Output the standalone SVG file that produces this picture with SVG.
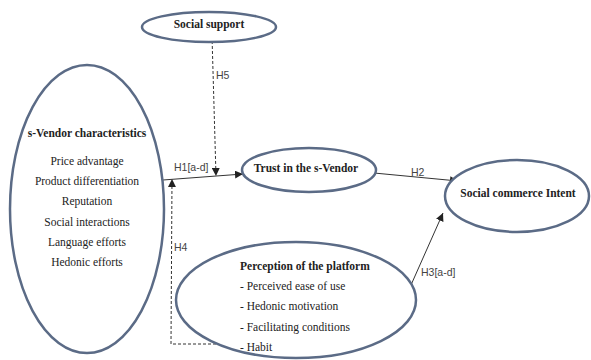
<svg xmlns="http://www.w3.org/2000/svg" width="591" height="360" viewBox="0 0 591 360">
<defs>
<marker id="ah" viewBox="0 0 10 10" refX="10" refY="5" markerWidth="8" markerHeight="8" markerUnits="userSpaceOnUse" orient="auto">
<path d="M0,0 L10,5 L0,10 z" fill="#222"/>
</marker>
<style>
.node ellipse{fill:#fff;stroke:#5b6b86;stroke-width:2.5}
.t{font-family:"Liberation Serif","Times New Roman",serif;font-size:11.5px;fill:#222;text-anchor:middle}
.b{font-weight:bold}
.l{text-anchor:start}
.lab{font-family:"Liberation Sans",Arial,sans-serif;font-size:10.5px;fill:#444}
.c{fill:none;stroke:#333;stroke-width:1}
.d{stroke-dasharray:3,2}
</style>
</defs>
<rect width="591" height="360" fill="#fff"/>
<g id="connectors">
<line class="c" x1="163" y1="180" x2="243" y2="174" marker-end="url(#ah)"/>
<line class="c d" x1="212" y1="36" x2="216" y2="176" marker-end="url(#ah)"/>
<polyline class="c d" points="246,344 171,344 172,179" marker-end="url(#ah)"/>
<line class="c" x1="374" y1="173" x2="458" y2="181" marker-end="url(#ah)"/>
<line class="c" x1="411" y1="285" x2="443" y2="213" marker-end="url(#ah)"/>
<text class="lab" x="174" y="171">H1[a-d]</text>
<text class="lab" x="216" y="79">H5</text>
<text class="lab" x="174" y="251">H4</text>
<text class="lab" x="411" y="176">H2</text>
<text class="lab" x="421" y="276">H3[a-d]</text>
</g>
<g id="social-support" class="node">
<ellipse cx="209" cy="27" rx="67" ry="15"/>
<text class="t b" x="209" y="28">Social support</text>
</g>
<g id="s-vendor" class="node">
<ellipse cx="87" cy="209" rx="77" ry="144"/>
<text class="t b" x="87" y="137">s-Vendor characteristics</text>
<text class="t" x="87" y="165">Price advantage</text>
<text class="t" x="87" y="185">Product differentiation</text>
<text class="t" x="87" y="205">Reputation</text>
<text class="t" x="87" y="226">Social interactions</text>
<text class="t" x="87" y="246">Language efforts</text>
<text class="t" x="87" y="266">Hedonic efforts</text>
</g>
<g id="trust" class="node">
<ellipse cx="309" cy="170" rx="67" ry="22"/>
<text class="t b" x="306" y="172">Trust in the s-Vendor</text>
</g>
<g id="intent" class="node">
<ellipse cx="517" cy="196" rx="72" ry="36"/>
<text class="t b" x="518" y="197">Social commerce Intent</text>
</g>
<g id="perception" class="node">
<ellipse cx="296" cy="300" rx="120" ry="58"/>
<text class="t b l" x="240" y="270">Perception of the platform</text>
<text class="t l" x="240" y="290">- Perceived ease of use</text>
<text class="t l" x="240" y="310">- Hedonic motivation</text>
<text class="t l" x="240" y="331">- Facilitating conditions</text>
<text class="t l" x="240" y="351">- Habit</text>
</g>
</svg>
